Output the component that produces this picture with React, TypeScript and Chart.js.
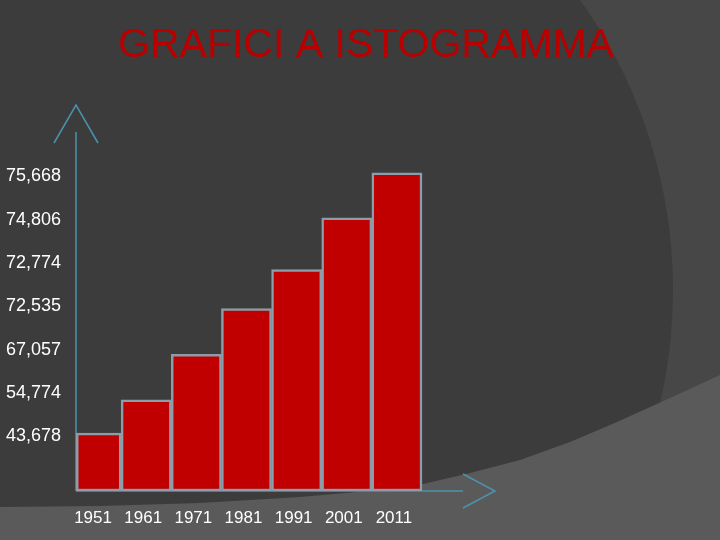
import React, { useEffect, useRef } from 'react';
import { Chart, registerables } from 'chart.js';

Chart.register(...registerables);

const TITLE = 'GRAFICI A ISTOGRAMMA';
const years = ['1951', '1961', '1971', '1981', '1991', '2001', '2011'];
const valueLabels = ['43,678', '54,774', '67,057', '72,535', '72,774', '74,806', '75,668'];
const tickLevels = [1, 2, 3, 4, 5, 6, 7];
const barLevels = [1.075, 1.84, 2.89, 3.95, 4.85, 6.04, 7.08];
const Y_MIN = -0.262;
const Y_MAX = 8;

const FONT = "'Liberation Sans', Arial, sans-serif";
const AXIS_COLOR = '#4b93ad';
const BAR_BORDER = '#8c9ca8';
const BORDER_W = 2.5;
const AXIS_INSET = 5;

const bottomCurve: [number, number][] = [
  [0, 507], [100, 506], [200, 503], [300, 497], [380, 490], [423, 484], [470, 473],
  [520, 460], [570, 442], [617, 422], [670, 398], [720, 375],
];

const backgroundPlugin = {
  id: 'slideBackground',
  beforeDraw(chart: any) {
    const { ctx, width, height } = chart;
    ctx.save();
    ctx.fillStyle = '#3c3c3c';
    ctx.fillRect(0, 0, width, height);
    ctx.beginPath();
    ctx.moveTo(width, 0);
    ctx.lineTo(580, 0);
    ctx.arc(174, 290, 499, Math.atan2(-290, 406), Math.asin(250 / 499), false);
    ctx.lineTo(width, height);
    ctx.closePath();
    ctx.fillStyle = '#474747';
    ctx.fill();
    ctx.beginPath();
    ctx.moveTo(bottomCurve[0][0], bottomCurve[0][1]);
    for (const [x, y] of bottomCurve.slice(1)) ctx.lineTo(x, y);
    ctx.lineTo(width, height);
    ctx.lineTo(0, height);
    ctx.closePath();
    ctx.fillStyle = '#5a5a5a';
    ctx.fill();
    ctx.fillStyle = '#b80000';
    ctx.font = `41px ${FONT}`;
    ctx.textAlign = 'center';
    ctx.textBaseline = 'alphabetic';
    ctx.fillText(TITLE, 366, 57);
    ctx.restore();
  },
};

const axesPlugin = {
  id: 'arrowAxes',
  beforeDatasetsDraw(chart: any) {
    const { ctx, chartArea, scales } = chart;
    const x0 = chartArea.left + AXIS_INSET;
    const y0 = scales.y.getPixelForValue(Y_MIN);
    ctx.save();
    ctx.strokeStyle = AXIS_COLOR;
    ctx.lineWidth = 1.5;
    ctx.beginPath();
    ctx.moveTo(x0, y0);
    ctx.lineTo(x0, 132);
    ctx.stroke();
    ctx.beginPath();
    ctx.moveTo(x0 - 22, 143);
    ctx.lineTo(x0, 105);
    ctx.lineTo(x0 + 22, 143);
    ctx.stroke();
    ctx.beginPath();
    ctx.moveTo(x0, y0);
    ctx.lineTo(463, y0);
    ctx.stroke();
    ctx.beginPath();
    ctx.moveTo(463, y0 - 17);
    ctx.lineTo(495, y0);
    ctx.lineTo(463, y0 + 17);
    ctx.stroke();
    ctx.restore();
  },
  afterDatasetsDraw(chart: any) {
    // left edge of the first bar, where it is cut by the vertical axis
    const { ctx, chartArea, scales } = chart;
    const x0 = chartArea.left + AXIS_INSET;
    const top = scales.y.getPixelForValue(barLevels[0]);
    const bottom = scales.y.getPixelForValue(Y_MIN);
    ctx.save();
    ctx.fillStyle = BAR_BORDER;
    ctx.fillRect(x0, top, BORDER_W, bottom - top);
    ctx.restore();
  },
};

export default function App() {
  const canvasRef = useRef<HTMLCanvasElement | null>(null);

  useEffect(() => {
    if (!canvasRef.current) return;
    const chart = new Chart(canvasRef.current, {
      type: 'bar',
      data: {
        labels: years,
        datasets: [
          {
            data: barLevels,
            base: Y_MIN,
            backgroundColor: '#c00000',
            borderColor: BAR_BORDER,
            borderWidth: BORDER_W,
            borderSkipped: false,
            barPercentage: 1,
            categoryPercentage: 1,
            clip: { left: -AXIS_INSET, top: false, right: false, bottom: false },
          } as any,
        ],
      },
      options: {
        responsive: false,
        animation: false,
        layout: { padding: { left: 6, right: 298, top: 133, bottom: 0 } },
        plugins: {
          legend: { display: false },
          title: { display: false },
          tooltip: { enabled: false },
        },
        scales: {
          x: {
            type: 'category',
            grid: { display: false, drawTicks: false },
            border: { display: false },
            ticks: {
              color: '#ffffff',
              font: { family: FONT, size: 17 },
              padding: 17,
              maxRotation: 0,
              autoSkip: false,
              labelOffset: -3,
            },
            afterFit: (s: any) => {
              s.height = 49;
            },
          },
          y: {
            type: 'linear',
            min: Y_MIN,
            max: Y_MAX,
            grid: { display: false, drawTicks: false },
            border: { display: false },
            afterBuildTicks: (s: any) => {
              s.ticks = tickLevels.map((v) => ({ value: v }));
            },
            ticks: {
              color: '#ffffff',
              font: { family: FONT, size: 18 },
              padding: 10,
              callback: (v: any) => valueLabels[tickLevels.indexOf(Number(v))] ?? '',
            },
            afterFit: (s: any) => {
              s.width = 65;
            },
          },
        },
      } as any,
      plugins: [backgroundPlugin, axesPlugin],
    });
    return () => chart.destroy();
  }, []);

  return (
    <div style={{ position: 'fixed', left: 0, top: 0, width: 720, height: 540 }}>
      <canvas ref={canvasRef} width={720} height={540} style={{ display: 'block' }} />
    </div>
  );
}
